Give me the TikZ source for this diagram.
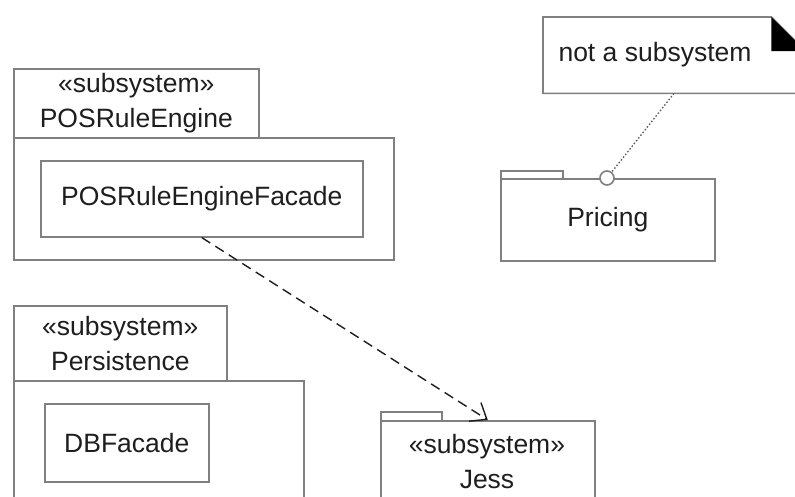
\documentclass[tikz,border=0pt]{standalone}
\usepackage{fontspec}
\setmainfont{Liberation Sans}
\usetikzlibrary{arrows.meta,calc}
\definecolor{linegray}{HTML}{808080}
\definecolor{txt}{HTML}{1E1E1E}
\tikzset{
  box/.style={draw=linegray, line width=1.6pt, fill=white, anchor=north west, inner sep=0pt, text=txt, align=center},
  lbl/.style={text=txt, align=center, inner sep=0pt},
}
\begin{document}
\begin{tikzpicture}[x=1pt,y=-1pt, font=\fontsize{26.5}{35}\selectfont]
\useasboundingbox (0,0) rectangle (795,496);
\clip (0,0) rectangle (795,496);
\fill[white] (0,0) rectangle (795,496);

% POSRuleEngine subsystem
\node[box, minimum width=245pt, minimum height=69pt] (pretab) at (13,68) {\guillemotleft subsystem\guillemotright\\POSRuleEngine};
\node[box, minimum width=380pt, minimum height=122pt] (prebody) at (13,137) {};
\node[box, minimum width=322pt, minimum height=76pt] (prefacade) at (40,160) {POSRuleEngineFacade};

% Persistence subsystem
\node[box, minimum width=213pt, minimum height=75pt] (pertab) at (13,305) {\guillemotleft subsystem\guillemotright\\Persistence};
\node[box, minimum width=290pt, minimum height=150pt] (perbody) at (13,380) {};
\node[box, minimum width=164pt, minimum height=78pt] (dbf) at (44,403) {DBFacade};

% Pricing package
\node[box, minimum width=62pt, minimum height=8pt] (pritab) at (500,170) {};
\node[box, minimum width=214pt, minimum height=82pt] (pricing) at (500,178) {Pricing};
\node[draw=linegray, line width=1.6pt, fill=white, circle, minimum size=14pt, inner sep=0pt] (circ) at (607,178) {};

% Jess package
\node[box, minimum width=61pt, minimum height=9pt] (jesstab) at (380,411) {};
\node[box, minimum width=214pt, minimum height=110pt] (jess) at (380,420) {};
\node[lbl] (jesslbl) at (487,462) {\guillemotleft subsystem\guillemotright\\Jess};

% Note
\node[minimum width=262pt, minimum height=76pt, anchor=north west, inner sep=0pt] (note) at (543,17) {};
\node[lbl] (notetext) at (655,55) {not a subsystem};
\draw[linegray, line width=1.6pt] (note.north west) -- ($(note.north east)+(-34,0)$) -- ($(note.north east)+(0,34)$) -- (note.south east) -- (note.south west) -- cycle;
\fill[black] ($(note.north east)+(-34,0)$) -- ($(note.north east)+(-34,34)$) -- ($(note.north east)+(0,34)$) -- cycle;

% connectors
\draw[linegray!70!black, line width=1.3pt, dash pattern=on 1.5pt off 2pt] ($(note.south west)+(131,0)$) -- (circ);
\draw[txt, line width=1.4pt, dash pattern=on 10pt off 6pt, -{Straight Barb[length=14pt,width=22pt,line width=1.4pt]}] (prefacade.south) -- (jess.north);
\end{tikzpicture}
\end{document}
